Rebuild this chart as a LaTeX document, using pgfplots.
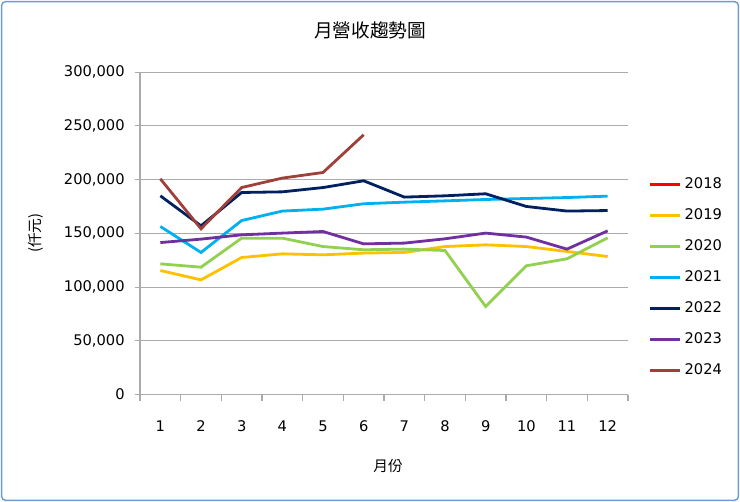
\documentclass[border=0pt]{standalone}
\usepackage{pgfplots}
\pgfplotsset{compat=1.18}
\usepackage{fontspec}
\setmainfont{DejaVu Sans}
\newfontfamily\cjk{Noto Sans CJK TC}

\definecolor{c2018}{HTML}{FF0000}
\definecolor{c2019}{HTML}{FFC000}
\definecolor{c2020}{HTML}{92D050}
\definecolor{c2021}{HTML}{00B0F0}
\definecolor{c2022}{HTML}{002060}
\definecolor{c2023}{HTML}{7030A0}
\definecolor{c2024}{HTML}{A0403A}
\definecolor{gridc}{HTML}{ABABAB}
\definecolor{framec}{HTML}{6E9BD8}

\begin{document}
\begin{tikzpicture}
% whole chart area 740x502 px, 1px = 0.75pt
\useasboundingbox (0pt,0pt) rectangle (555pt,376.5pt);
\draw[framec, line width=1.1pt, rounded corners=3pt] (1.2pt,1.2pt) rectangle (553.8pt,375.3pt);

\node[font=\cjk\fontsize{14}{16}\selectfont] at (277.5pt,354pt) {月營收趨勢圖};
\node[font=\cjk\fontsize{11}{13}\selectfont, rotate=90] at (26.5pt,201.5pt) {(仟元)};
\node[font=\cjk\fontsize{11}{13}\selectfont] at (291pt,27pt) {月份};

\begin{axis}[
    at={(105pt,80.6pt)},
    anchor=south west,
    scale only axis,
    width=366pt,
    height=241.8pt,
    xmin=0.5, xmax=12.5,
    ymin=0, ymax=300000,
    xtick={1,2,3,4,5,6,7,8,9,10,11,12},
    minor xtick={0.5,1.5,2.5,3.5,4.5,5.5,6.5,7.5,8.5,9.5,10.5,11.5,12.5},
    ytick={0,50000,100000,150000,200000,250000,300000},
    scaled y ticks=false,
    /pgf/number format/fixed,
    /pgf/number format/1000 sep={,},
    /pgf/number format/assume math mode=true,
    xticklabel style={yshift=-16pt},
    yticklabel style={xshift=-8pt},
    tick label style={font=\fontsize{11}{13}\selectfont, text=black},
    axis x line*=bottom,
    axis y line*=left,
    axis line style={gridc, line width=0.8pt},
    ymajorgrids,
    major grid style={gridc, line width=0.8pt},
    major tick length=0pt,
    minor tick length=4.5pt,
    tick align=outside,
    tick style={gridc, line width=0.8pt},
    extra y ticks={0,50000,100000,150000,200000,250000,300000},
    extra y tick labels={},
    extra y tick style={major tick length=4pt, grid=none},
    every axis plot/.append style={line width=2.1pt, mark=none},
    legend cell align=left,
    legend style={
        at={(1.041,0.364)}, anchor=west,
        draw=none, fill=none,
        font=\fontsize{11}{13}\selectfont,
        row sep=11.6pt,
        inner sep=0pt,
        nodes={inner xsep=2pt, inner ysep=1pt},
    },
    legend image code/.code={\draw[#1, line width=2.25pt] (0pt,0pt) -- (23pt,0pt);},
]

% 2018: no data shown, legend only
\addlegendimage{c2018}
\addlegendentry{2018}

\addplot[c2019] coordinates {
(1,115400) (2,106700) (3,127500) (4,130900) (5,130000) (6,131600)
(7,132200) (8,137700) (9,139300) (10,137700) (11,133100) (12,128400)
};
\addlegendentry{2019}

\addplot[c2020] coordinates {
(1,121600) (2,118500) (3,145500) (4,145500) (5,137700) (6,134700)
(7,135300) (8,134000) (9,81900) (10,119800) (11,126300) (12,145800)
};
\addlegendentry{2020}

\addplot[c2021] coordinates {
(1,156400) (2,132200) (3,161900) (4,170700) (5,172500) (6,177500)
(7,179000) (8,180200) (9,181500) (10,182400) (11,183300) (12,184600)
};
\addlegendentry{2021}

\addplot[c2022] coordinates {
(1,184900) (2,157000) (3,188000) (4,188600) (5,192600) (6,198900)
(7,183700) (8,184900) (9,186800) (10,175000) (11,170700) (12,171200)
};
\addlegendentry{2022}

\addplot[c2023] coordinates {
(1,141400) (2,144600) (3,148600) (4,150200) (5,151700) (6,140200)
(7,140900) (8,144900) (9,150200) (10,146500) (11,135300) (12,152300)
};
\addlegendentry{2023}

\addplot[c2024] coordinates {
(1,200700) (2,154200) (3,192600) (4,201400) (5,206600) (6,241700)
};
\addlegendentry{2024}

\end{axis}
\end{tikzpicture}
\end{document}
